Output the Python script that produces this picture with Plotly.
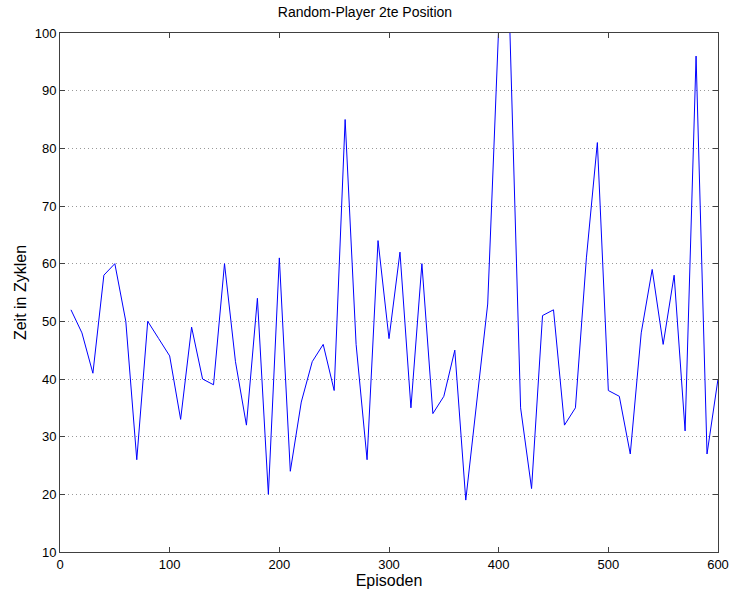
import plotly.graph_objects as go

episodes = list(range(10, 610, 10))
zeit = [52, 48, 41, 58, 60, 50, 26, 50, 47, 44,
        33, 49, 40, 39, 60, 43, 32, 54, 20, 61,
        24, 36, 43, 46, 38, 85, 46, 26, 64, 47,
        62, 35, 60, 34, 37, 45, 19, 36, 53, 101,
        102, 35, 21, 51, 52, 32, 35, 61, 81, 38,
        37, 27, 48, 59, 46, 58, 31, 96, 27, 40]

x_ticks = [0, 100, 200, 300, 400, 500, 600]
y_ticks = [10, 20, 30, 40, 50, 60, 70, 80, 90, 100]

font = "Liberation Sans, Arial, sans-serif"

fig = go.Figure()
fig.add_trace(go.Scatter(x=episodes, y=zeit, mode="lines",
                         line=dict(color="#0000ff", width=1), showlegend=False))

fig.update_layout(
    width=730, height=592,
    paper_bgcolor="white", plot_bgcolor="white",
    margin=dict(l=60, r=12, t=33, b=40),
    font=dict(family=font, size=13, color="black"),
    title=dict(text="Random-Player 2te Position", x=0.5, xanchor="center",
               y=1 - 12 / 592, yanchor="middle", font=dict(size=14)),
)
fig.update_xaxes(
    range=[0, 600], tickvals=x_ticks, ticks="inside", ticklen=5,
    tickcolor="#404040", showline=True, linecolor="#404040", linewidth=1,
    mirror="ticks", showgrid=False, zeroline=False, automargin=False,
    title=dict(text="Episoden", standoff=2), tickfont=dict(size=13),
)
fig.update_yaxes(
    range=[10, 100], tickvals=y_ticks, ticks="inside", ticklen=5,
    tickcolor="#404040", showline=True, linecolor="#404040", linewidth=1,
    mirror="ticks", showgrid=True, gridcolor="#999999", griddash="1px,3px",
    gridwidth=1, zeroline=False, automargin=False,
    title=dict(text="Zeit in Zyklen", standoff=4), tickfont=dict(size=13),
)

fig.write_html("out.html", config={"displayModeBar": False},
               post_script="document.body.style.margin='0px';document.body.style.overflow='hidden';")
